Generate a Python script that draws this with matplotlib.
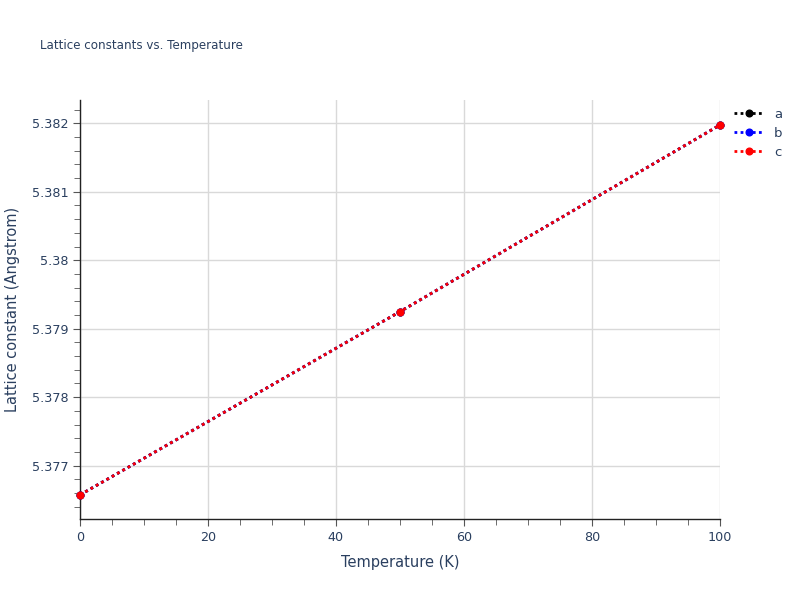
import matplotlib
matplotlib.use("Agg")
import matplotlib.pyplot as plt
from matplotlib.ticker import MultipleLocator, FuncFormatter

# data
temperature = [0, 50, 100]
lat_a = [5.376572, 5.379249, 5.381975]
lat_b = [5.376572, 5.379249, 5.381975]
lat_c = [5.376572, 5.379249, 5.381975]
series_names = ["a", "b", "c"]
series_colors = ["black", "blue", "red"]

txt = "#2a3f5f"
grid_c = "#d9d9d9"

fig = plt.figure(figsize=(8, 6), dpi=100)
ax = fig.add_axes([0.1, 0.135, 0.8, 0.6983])

for vals, name, col in zip([lat_a, lat_b, lat_c], series_names, series_colors):
    ax.plot(temperature, vals, linestyle=(0, (1, 1.2)), linewidth=2, color=col,
            marker="o", markersize=4.8, label=name, clip_on=False, zorder=3)

ax.set_xlim(0, 100)
ax.set_ylim(5.37622, 5.38234)

ax.xaxis.set_major_locator(MultipleLocator(20))
ax.xaxis.set_minor_locator(MultipleLocator(5))
ax.yaxis.set_major_locator(MultipleLocator(0.001))
ax.yaxis.set_minor_locator(MultipleLocator(0.0002))
ax.yaxis.set_major_formatter(FuncFormatter(lambda v, p: ("%.3f" % v).rstrip("0")))

ax.grid(True, which="major", color=grid_c, linewidth=1)
ax.set_axisbelow(True)
for s in ["top", "right"]:
    ax.spines[s].set_visible(False)
for s in ["left", "bottom"]:
    ax.spines[s].set_color("#222222")
    ax.spines[s].set_linewidth(1)

ax.tick_params(which="both", direction="out", color="#555555", labelcolor=txt,
               labelsize=9.2)
ax.tick_params(which="major", length=5)
ax.tick_params(which="minor", length=4)

ax.set_xlabel("Temperature (K)", color=txt, fontsize=10.5, labelpad=8)
ax.set_ylabel("Lattice constant (Angstrom)", color=txt, fontsize=10.5, labelpad=8)

fig.text(0.05, 0.925, "Lattice constants vs. Temperature", color=txt, fontsize=8.6,
         va="center", ha="left")

leg = ax.legend(loc="upper left", bbox_to_anchor=(1.01, 1.0), frameon=False,
                fontsize=9.5, handlelength=2.2, labelspacing=0.45, borderaxespad=0.2)
for t in leg.get_texts():
    t.set_color(txt)

fig.savefig("out.png", dpi=100)
